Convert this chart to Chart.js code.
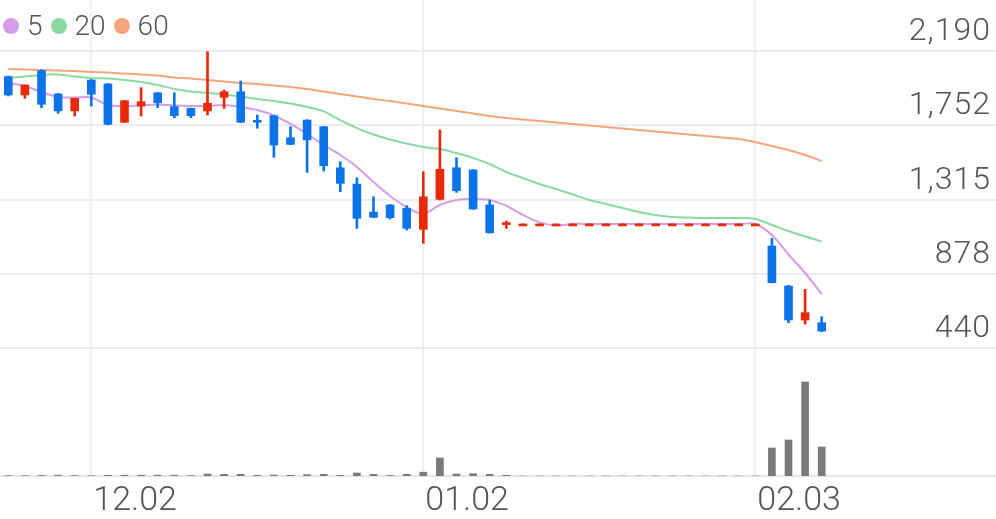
<!DOCTYPE html>
<html><head><meta charset="utf-8">
<script src="https://cdn.jsdelivr.net/npm/chart.js@4.4.1/dist/chart.umd.min.js"></script>
<style>
html,body{margin:0;padding:0;background:#fff;}
#wrap{position:relative;width:996px;height:519px;}
#legend{position:absolute;left:3px;top:9px;font-family:Roboto,sans-serif;font-weight:300;font-size:28px;color:#555;display:flex;align-items:center;line-height:34px;}
#legend .dot{display:inline-block;width:16px;height:16px;border-radius:50%;margin-right:8px;}
#legend .lab{margin-right:8px;}
</style></head><body>
<div id="wrap"><canvas id="c" width="996" height="519"></canvas><div id="legend"></div></div>
<script>
const categories = ['11.25','11.26','11.27','11.28','11.29','12.02','12.03','12.04','12.05','12.06',
'12.09','12.10','12.11','12.12','12.13','12.16','12.17','12.18','12.19','12.20',
'12.23','12.24','12.26','12.27','12.30','01.02','01.03','01.06','01.07','01.08',
'01.09','01.10','01.13','01.14','01.15','01.16','01.17','01.20','01.21','01.22',
'01.23','01.28','01.29','01.30','01.31','02.03','02.04','02.05','02.06','02.07',
'02.10','02.11','02.12','02.13','02.14','02.17','02.18','02.19','02.20','02.21'];
const opens = [2039,1931,2074,1937,1837,2019,1996,1770,1866,1944,1862,1852,1837,1917,1950,1778,1809,1679,1783,1744,
1502,1406,1241,1283,1263,1139,1316,1502,1489,1283,1167,1171,1171,1171,1171,1171,1171,1171,1171,1171,
1171,1171,1171,1171,1171,1171,1041,805,605,589];
const highs = [2043,1990,2080,1940,1911,2022,1998,1899,1974,1946,1944,1854,2186,1960,2013,1813,1811,1744,1785,1746,
1538,1443,1331,1285,1278,1479,1725,1561,1491,1312,1188,1171,1171,1171,1171,1171,1171,1171,1171,1171,
1171,1171,1171,1171,1171,1171,1086,809,786,624];
const lows = [1925,1911,1856,1823,1807,1866,1755,1768,1807,1856,1797,1797,1813,1852,1768,1735,1564,1638,1475,1483,
1361,1145,1208,1200,1135,1057,1312,1357,1257,1117,1145,1171,1171,1171,1171,1171,1171,1171,1171,1171,
1171,1171,1171,1171,1171,1171,823,589,581,536];
const closes = [1931,1990,1876,1837,1911,1935,1758,1897,1891,1885,1809,1809,1882,1950,1770,1770,1636,1640,1666,1514,
1410,1204,1210,1208,1145,1331,1493,1367,1259,1119,1171,1171,1171,1171,1171,1171,1171,1171,1171,1171,
1171,1171,1171,1171,1171,1171,825,605,648,540];
const volumes = [3000,3000,5000,8000,4000,3000,8000,8000,8000,8000,8000,4000,20000,17000,17000,7000,10000,7000,13000,17000,
7000,30000,17000,5000,17000,38000,180000,20000,23000,17000,7000,0,0,0,0,0,0,0,0,0,
0,0,0,0,0,0,280000,360000,940000,290000];
const ma5 = [2001,1984,1948,1919,1916,1916,1872,1866,1869,1875,1869,1866,1866,1872,1860,1842,1810,1760,1701,1636,
1577,1507,1418,1336,1271,1230,1283,1312,1318,1312,1277,1224,1180,1162,1171,1171,1171,1171,1171,1171,
1171,1171,1171,1171,1171,1171,1106,991,882,758];
const ma20 = [2031,2040,2049,2052,2040,2031,2028,2019,2007,1990,1966,1951,1943,1934,1922,1907,1895,1881,1860,1834,
1783,1736,1698,1669,1645,1624,1613,1589,1560,1524,1477,1442,1406,1377,1345,1312,1289,1265,1241,1224,
1212,1209,1206,1206,1206,1200,1165,1129,1097,1068];
const ma60 = [2084,2081,2078,2075,2072,2066,2063,2057,2052,2046,2034,2028,2019,2010,2001,1996,1987,1978,1966,1951,
1937,1922,1907,1895,1881,1866,1851,1836,1822,1807,1795,1786,1778,1769,1760,1751,1742,1733,1725,1716,
1707,1698,1689,1680,1672,1654,1630,1607,1577,1542];
const priceTicks = [440, 878, 1315, 1752, 2190];
const dateTickIndex = [5, 25, 45];
const maNames = ['5', '20', '60'];

const UP = '#e62a0a', DOWN = '#0c74e8';
const maColors = ['#d69be9', '#8cd9a0', '#f6a57b'];
const candleColors = opens.map((o, i) => closes[i] >= o ? UP : DOWN);

const legend = document.getElementById('legend');
maNames.forEach((n, i) => {
  const d = document.createElement('span'); d.className = 'dot'; d.style.background = maColors[i];
  const t = document.createElement('span'); t.className = 'lab'; t.textContent = n;
  legend.appendChild(d); legend.appendChild(t);
});

const H = 476; // plot bottom
const pxPerUnit = (348 - 51) / (2190 - 440);
const yMax = 440 + 348 / pxPerUnit;
const yMin = 440 - (H - 348) / pxPerUnit;

function zeroPad(s) { s.paddingTop = 0; s.paddingBottom = 0; s.paddingLeft = 0; s.paddingRight = 0; }
function spaced(s, sp) {
  if (s._spacedWrap) return;
  const orig = s.drawLabels.bind(s);
  s.drawLabels = (ca) => { const c = s.ctx; c.save(); c.letterSpacing = sp; orig(ca); c.restore(); };
  s._spacedWrap = true;
}

new Chart(document.getElementById('c'), {
  data: {
    labels: categories,
    datasets: [
      { type: 'bar', data: opens.map((o, i) => [lows[i], highs[i]]), backgroundColor: candleColors,
        barThickness: 2, grouped: false, yAxisID: 'y', order: 1 },
      { type: 'bar', data: opens.map((o, i) => [o, closes[i]]), backgroundColor: candleColors,
        barThickness: 8, minBarLength: 2, grouped: false, yAxisID: 'y', order: 0 },
      { type: 'line', data: ma60, borderColor: maColors[2], borderWidth: 2, pointRadius: 0, tension: 0.3, yAxisID: 'y', order: 2 },
      { type: 'line', data: ma20, borderColor: maColors[1], borderWidth: 2, pointRadius: 0, tension: 0.3, yAxisID: 'y', order: 2 },
      { type: 'line', data: ma5, borderColor: maColors[0], borderWidth: 2, pointRadius: 0, tension: 0.3, yAxisID: 'y', order: 2 },
      { type: 'bar', data: volumes, backgroundColor: '#7a7a7a', barThickness: 7, grouped: false, yAxisID: 'yv', order: 3 }
    ]
  },
  options: {
    responsive: false, animation: false, devicePixelRatio: 1,
    layout: { padding: 0, autoPadding: false },
    plugins: { legend: { display: false }, tooltip: { enabled: false } },
    scales: {
      x: {
        type: 'category', offset: true,
        grid: { offset: false, color: '#efefef', lineWidth: 2, drawTicks: false },
        border: { display: true, color: '#e6e6e6', width: 2 },
        ticks: { autoSkip: false, maxRotation: 0, align: 'start', labelOffset: 2, padding: 5,
          color: '#555', font: { family: 'Roboto', weight: 300, size: 34 } },
        afterBuildTicks: s => { s.ticks = dateTickIndex.map(v => ({ value: v })); },
        afterFit: s => { s.height = 519 - H; zeroPad(s); }
      },
      y: {
        position: 'right', min: yMin, max: yMax,
        grid: { color: '#ececec', lineWidth: 2, drawTicks: false },
        border: { display: false },
        ticks: { mirror: true, padding: -5, labelOffset: -19, color: '#555',
          font: { family: 'Roboto', weight: 300, size: 32 },
          callback: v => Math.round(v).toLocaleString('en-US') },
        afterBuildTicks: s => { s.ticks = priceTicks.map(v => ({ value: v })); },
        afterFit: s => { s.width = 0; zeroPad(s); spaced(s, '1px'); }
      },
      yv: { display: false, min: 0, max: H * 10000, afterFit: zeroPad }
    }
  }
});
</script>
</body></html>
